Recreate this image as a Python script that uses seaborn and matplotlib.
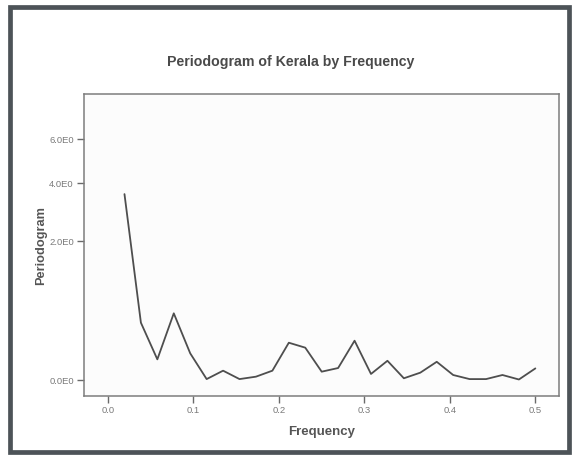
import numpy as np
import pandas as pd
import matplotlib
matplotlib.use("Agg")
import matplotlib.pyplot as plt
from matplotlib.patches import Rectangle
import seaborn as sns

# Periodogram ordinates at the Fourier frequencies k/52, k = 1..26
frequency = [k / 52 for k in range(1, 27)]
periodogram = [3.58, 0.344, 0.046, 0.465, 0.076, 0.0002, 0.0099, 0.0002,
               0.0015, 0.0099, 0.147, 0.111, 0.008, 0.016, 0.163, 0.0044,
               0.040, 0.0005, 0.0063, 0.036, 0.0031, 0.0002, 0.0002, 0.0031,
               0.0001, 0.015]

x_ticks = [0.0, 0.1, 0.2, 0.3, 0.4, 0.5]
y_ticks = [0.0, 2.0, 4.0, 6.0]
y_tick_labels = ["0.0E0", "2.0E0", "4.0E0", "6.0E0"]

df = pd.DataFrame({"Frequency": frequency, "Periodogram": periodogram})

sns.set_style("white")
plt.rcParams["font.family"] = ["Liberation Sans", "DejaVu Sans"]

fig = plt.figure(figsize=(5.72, 4.55), dpi=100)
ax = fig.add_axes([0.146, 0.1286, 0.977 - 0.146, 0.7927 - 0.1286])
ax.set_facecolor("#fcfcfc")

sns.lineplot(data=df, x="Frequency", y="Periodogram", ax=ax,
             color="#4e4e4e", linewidth=1.3)


def _fwd(v):
    v = np.asarray(v, dtype=float)
    return np.sign(v) * np.sqrt(np.abs(v))


def _inv(v):
    v = np.asarray(v, dtype=float)
    return np.sign(v) * v ** 2


# power (square-root) transformed value axis
ax.set_yscale("function", functions=(_fwd, _inv))
ax.set_ylim(-0.0264, 8.44)
ax.set_xlim(-0.0287, 0.5275)

ax.set_xticks(x_ticks)
ax.set_xticklabels([f"{t:.1f}" for t in x_ticks])
ax.set_yticks(y_ticks)
ax.set_yticklabels(y_tick_labels)
ax.minorticks_off()

ax.tick_params(axis="both", which="major", direction="out", length=5,
               width=1.0, color="#6a6a6a", labelsize=6.8,
               labelcolor="#7a7a7a", pad=2, bottom=True, left=True)
for spine in ax.spines.values():
    spine.set_color("#7d7d7d")
    spine.set_linewidth(1.1)

ax.set_xlabel("Frequency", fontsize=9.5, fontweight="bold", color="#555555",
              labelpad=8)
ax.set_ylabel("Periodogram", fontsize=9.2, fontweight="bold", color="#555555",
              labelpad=1.5)

fig.text(0.508, 1 - 62 / 455, "Periodogram of Kerala by Frequency",
         ha="center", va="center", fontsize=10.2, fontweight="bold",
         color="#4a4a4a")

# outer frame around the whole chart
fig.patches.append(Rectangle((9.5 / 572, 3 / 455), 559 / 572, 445 / 455,
                             transform=fig.transFigure, fill=False,
                             edgecolor="#4d5358", linewidth=3.4))

fig.savefig("out.png", dpi=100)
